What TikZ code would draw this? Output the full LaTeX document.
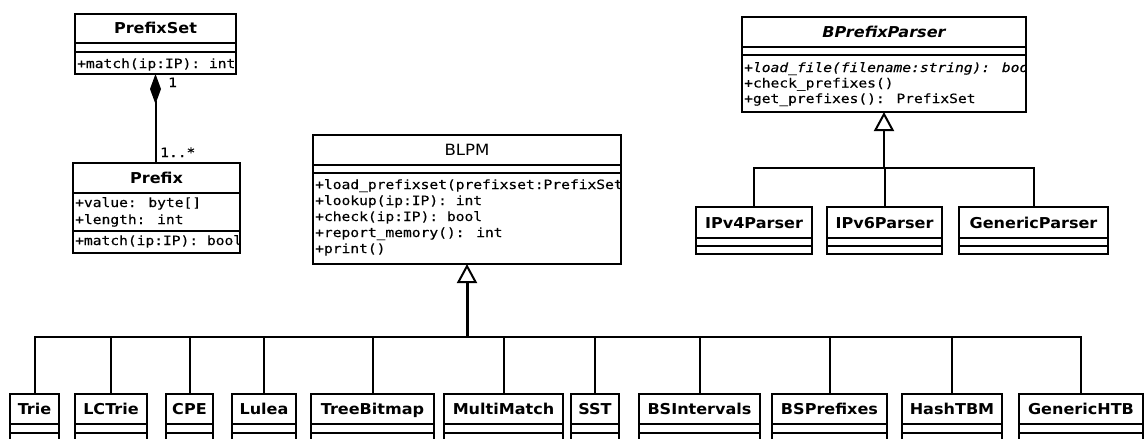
\documentclass[tikz,border=0pt]{standalone}
\usepackage{fontspec}
\setmainfont{DejaVu Sans}
\newfontfamily\namefont[FakeStretch=1.07]{DejaVu Sans}
\newfontfamily\codefont[FakeStretch=1.14,FakeBold=0.3]{DejaVu Sans Mono}
\usetikzlibrary{arrows.meta}
\tikzset{
  cls/.style={draw, line width=1.6pt, rectangle, inner sep=0pt, outer sep=0pt, anchor=north west},
  sepline/.style={line width=1.6pt},
  cname/.style={anchor=base, inner sep=0pt, font=\namefont\fontsize{15}{18}\selectfont\bfseries},
  cnameplain/.style={anchor=base, inner sep=0pt, font=\namefont\fontsize{15.5}{18}\selectfont},
  code/.style={anchor=base west, inner sep=0pt, font=\codefont\fontsize{12.8}{16}\selectfont},
  bus/.style={line width=2pt},
  gen/.style={-{Triangle[open, length=19pt, width=20pt, line width=2pt]}},
  comp/.style={{Diamond[length=30pt, width=11pt]}-, line width=2pt},
}
\newcommand{\umlclass}[7]{%
  \node[cls, minimum width={(#4-#2)*1pt}, minimum height={(#5-#3)*1pt}] (#1) at (#2,#3) {};
  \draw[sepline] (#2,#6) -- (#4,#6) (#2,#7) -- (#4,#7);
}
\newcommand{\child}[4]{% name, x1, x2, title
  \umlclass{#1}{#2}{394}{#3}{470}{424}{433}
  \node[cname] (#1-n) at ({(#2+#3)/2},414.5) {#4};
}
\begin{document}
\begin{tikzpicture}[x=1pt,y=-1pt]
\useasboundingbox (0,0) rectangle (1144,439);
\clip (0,0) rectangle (1144,439);
\fill[white] (0,0) rectangle (1144,439);

% PrefixSet
\umlclass{ps}{75}{14}{236}{74}{43}{52}
\node[cname] (ps-n) at (155.5,34) {PrefixSet};
\node[code] (ps-m1) at (77,68) {+match(ip:IP): int};

% Prefix
\umlclass{pfx}{73}{163}{240}{253}{193}{231}
\node[cname] (pfx-n) at (156.5,183.5) {Prefix};
\node[code] (pfx-a1) at (75,207) {+value: byte[]};
\node[code] (pfx-a2) at (75,224) {+length: int};
\node[code] (pfx-m1) at (75,245) {+match(ip:IP): bool};

% composition
\draw[comp] (ps.south) -- (ps.south |- pfx.north);
\node[code, anchor=base west] (m1) at (168,87) {1};
\node[code, anchor=base west] (m2) at (160,157) {1..*};

% BLPM
\umlclass{blpm}{313}{135}{621}{264}{165}{173}
\node[cnameplain] (blpm-n) at (467,155.5) {BLPM};
\begin{scope}
\clip (313,173) rectangle (620,264);
\node[code] (blpm-m1) at (315,189) {+load\_prefixset(prefixset:PrefixSet)};
\node[code] (blpm-m2) at (315,205) {+lookup(ip:IP): int};
\node[code] (blpm-m3) at (315,221) {+check(ip:IP): bool};
\node[code] (blpm-m4) at (315,237) {+report\_memory(): int};
\node[code] (blpm-m5) at (315,253) {+print()};
\end{scope}

% BPrefixParser
\umlclass{bpp}{742}{17}{1026}{112}{47}{55}
\node[cname, font=\namefont\fontsize{15}{18}\selectfont\bfseries\itshape] (bpp-n) at (884,37.5) {BPrefixParser};
\begin{scope}
\clip (742,55) rectangle (1025,112);
\node[code, font=\codefont\fontsize{12.8}{16}\selectfont\itshape] (bpp-m1) at (744,72) {+load\_file(filename:string): bool};
\node[code] (bpp-m2) at (744,87.5) {+check\_prefixes()};
\node[code] (bpp-m3) at (744,103) {+get\_prefixes(): PrefixSet};
\end{scope}

% parsers
\umlclass{ipv4}{696}{207}{812}{254}{238}{246}
\node[cname] (ipv4-n) at (754,228) {IPv4Parser};
\umlclass{ipv6}{827}{207}{942}{254}{238}{246}
\node[cname] (ipv6-n) at (884.5,228) {IPv6Parser};
\umlclass{gp}{959}{207}{1108}{254}{238}{246}
\node[cname] (gp-n) at (1033.5,228) {GenericParser};

\coordinate (pbus) at (884,168);
\draw[bus] (ipv4.north) -- (ipv4.north |- pbus) -- (gp.north |- pbus) -- (gp.north);
\draw[bus] (ipv6.north) -- (ipv6.north |- pbus);
\draw[bus, gen] (pbus) -- (bpp.south);

% children of BLPM
\child{trie}{10}{59}{Trie}
\child{lct}{75}{147}{LCTrie}
\child{cpe}{166}{213}{CPE}
\child{lulea}{232}{296}{Lulea}
\child{tbm}{311}{434}{TreeBitmap}
\child{mm}{444}{563}{MultiMatch}
\child{sst}{571}{619}{SST}
\child{bsi}{639}{760}{BSIntervals}
\child{bsp}{772}{887}{BSPrefixes}
\child{htbm}{902}{1002}{HashTBM}
\child{ghtb}{1019}{1143}{GenericHTB}

\coordinate (bbus) at (467,337);
\draw[bus] (trie.north) -- (trie.north |- bbus) -- (ghtb.north |- bbus) -- (ghtb.north);
\foreach \c in {lct,cpe,lulea,tbm,mm,sst,bsi,bsp,htbm}
  \draw[bus] (\c.north) -- (\c.north |- bbus);
\draw[line width=3pt, gen] (bbus) -- (blpm.south);
\end{tikzpicture}
\end{document}
